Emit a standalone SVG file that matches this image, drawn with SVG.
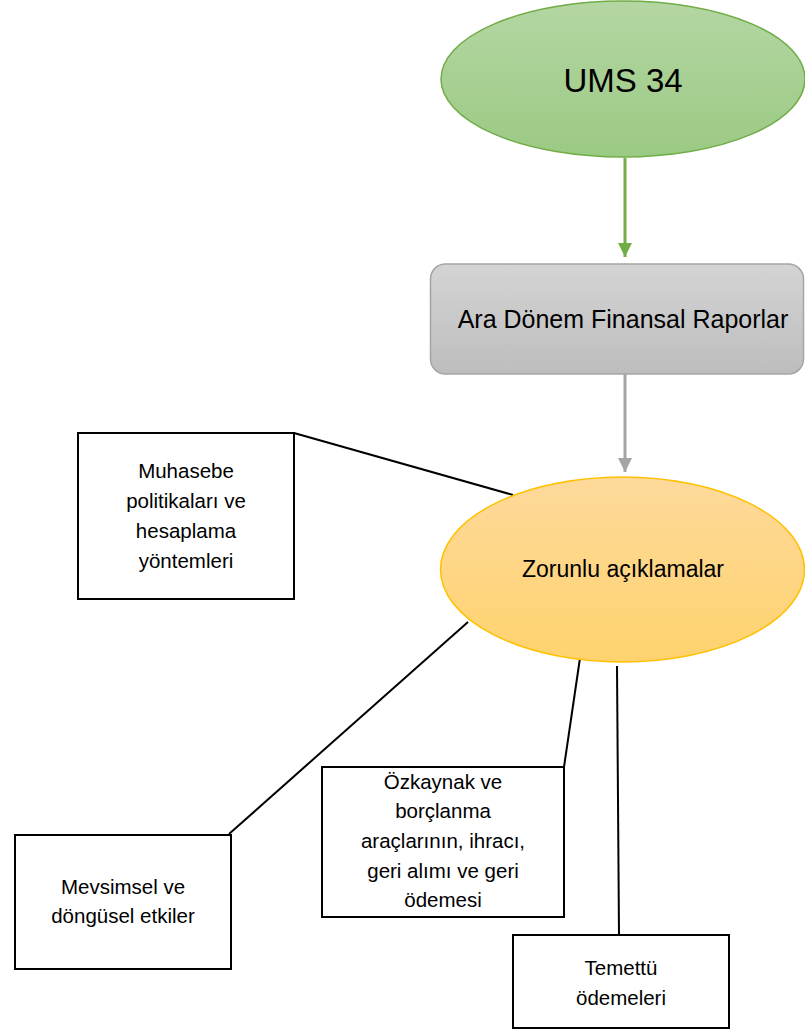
<svg xmlns="http://www.w3.org/2000/svg" width="805" height="1033" viewBox="0 0 805 1033">
<style>
text{font-family:"Liberation Sans",Arial,sans-serif;fill:#000;text-anchor:middle}
.box{fill:#fff;stroke:#000;stroke-width:2}
.ln{stroke:#000;stroke-width:2;fill:none}
.t{font-size:20.5px}
</style>
<defs>
<linearGradient id="gg" x1="0" y1="0" x2="0" y2="1"><stop offset="0" stop-color="#b4d6a3"/><stop offset="1" stop-color="#9bca83"/></linearGradient>
<linearGradient id="gr" x1="0" y1="0" x2="0" y2="1"><stop offset="0" stop-color="#d4d4d4"/><stop offset="1" stop-color="#bdbdbd"/></linearGradient>
<linearGradient id="go" x1="0" y1="0" x2="0" y2="1"><stop offset="0" stop-color="#fed99b"/><stop offset="1" stop-color="#fed36e"/></linearGradient>
<marker id="ag" markerWidth="14" markerHeight="14" refX="14" refY="7" orient="auto" markerUnits="userSpaceOnUse"><path d="M0,0 L14,7 L0,14 Z" fill="#70ad47"/></marker>
<marker id="ay" markerWidth="14" markerHeight="14" refX="14" refY="7" orient="auto" markerUnits="userSpaceOnUse"><path d="M0,0 L14,7 L0,14 Z" fill="#a5a5a5"/></marker>
</defs>
<g id="connectors">
<line x1="625" y1="158" x2="625" y2="257" stroke="#70ad47" stroke-width="3" marker-end="url(#ag)"/>
<line x1="625" y1="374" x2="625" y2="472" stroke="#a5a5a5" stroke-width="3" marker-end="url(#ay)"/>
<line class="ln" x1="294" y1="433" x2="513" y2="495"/>
<line class="ln" x1="468" y1="622" x2="229" y2="834"/>
<line class="ln" x1="580" y1="658" x2="564" y2="767"/>
<line class="ln" x1="617" y1="666" x2="619" y2="935"/>
</g>
<g id="ums34">
<ellipse cx="623" cy="79" rx="182" ry="78" fill="url(#gg)" stroke="#70ad47" stroke-width="1.5"/>
<text x="623" y="92" style="font-size:33px">UMS 34</text>
</g>
<g id="ara-donem">
<rect x="430.5" y="264" width="373" height="110" rx="15" fill="url(#gr)" stroke="#a5a5a5" stroke-width="1.5"/>
<text x="623" y="328" style="font-size:25px">Ara Dönem Finansal Raporlar</text>
</g>
<g id="zorunlu">
<ellipse cx="622.5" cy="569.5" rx="182" ry="92.5" fill="url(#go)" stroke="#ffc000" stroke-width="1.5"/>
<text x="623" y="577" style="font-size:23px">Zorunlu açıklamalar</text>
</g>
<g id="muhasebe">
<rect class="box" x="78" y="433" width="216" height="166"/>
<text class="t" x="186" y="478">Muhasebe</text>
<text class="t" x="186" y="508">politikaları ve</text>
<text class="t" x="186" y="538">hesaplama</text>
<text class="t" x="186" y="568">yöntemleri</text>
</g>
<g id="mevsimsel">
<rect class="box" x="15" y="835" width="216" height="134"/>
<text class="t" x="123" y="894">Mevsimsel ve</text>
<text class="t" x="123" y="923">döngüsel etkiler</text>
</g>
<g id="ozkaynak">
<rect class="box" x="322" y="767" width="242" height="150"/>
<text class="t" x="443" y="789">Özkaynak ve</text>
<text class="t" x="443" y="818">borçlanma</text>
<text class="t" x="443" y="848">araçlarının, ihracı,</text>
<text class="t" x="443" y="878">geri alımı ve geri</text>
<text class="t" x="443" y="907">ödemesi</text>
</g>
<g id="temettu">
<rect class="box" x="513" y="935" width="216" height="93"/>
<text class="t" x="621" y="975">Temettü</text>
<text class="t" x="621" y="1005">ödemeleri</text>
</g>
</svg>
